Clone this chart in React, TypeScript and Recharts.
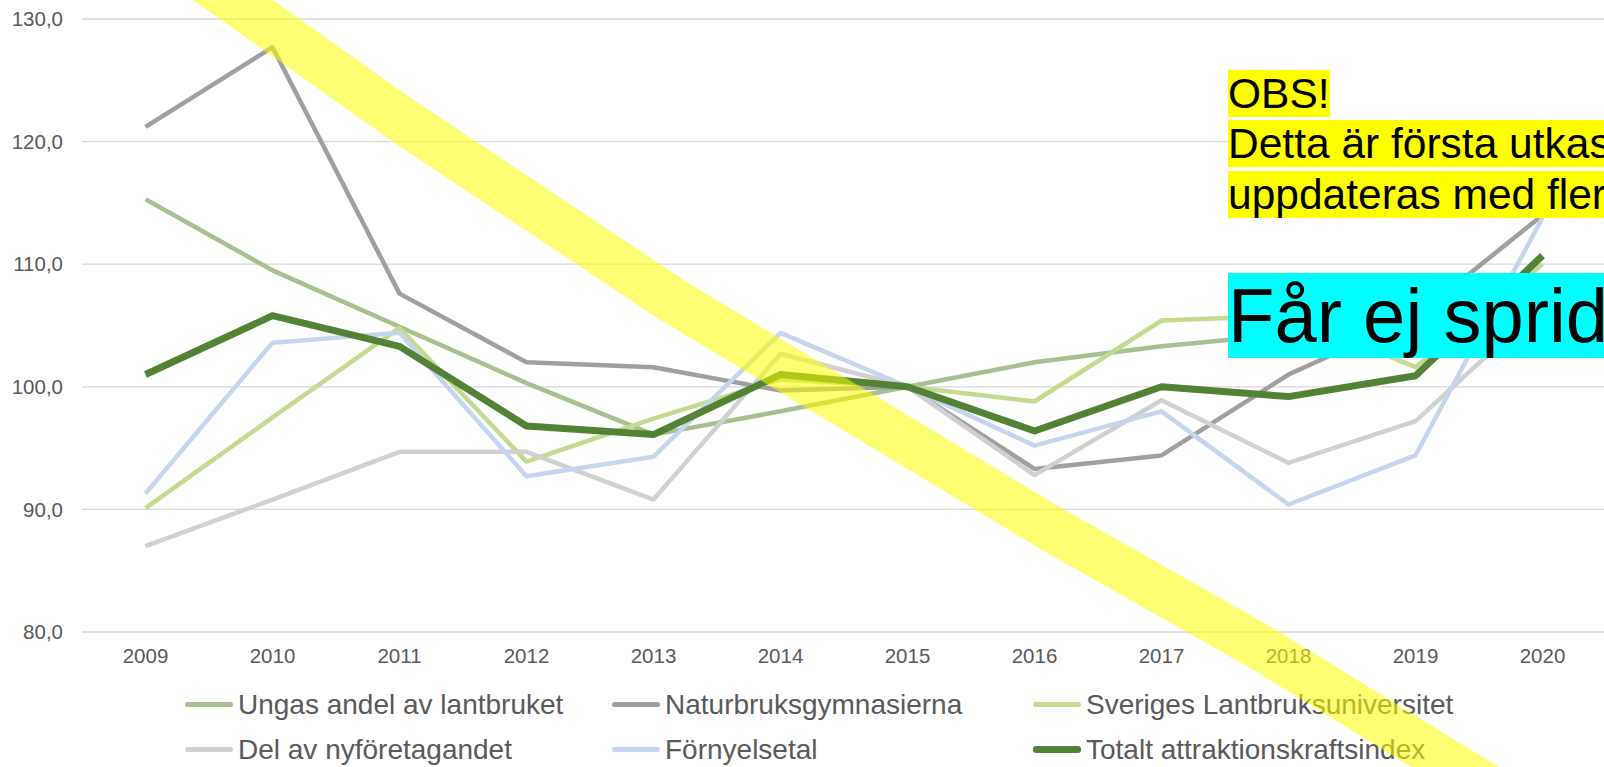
import { LineChart, Line, XAxis, YAxis, CartesianGrid, Legend } from "recharts";

const years = ["2009", "2010", "2011", "2012", "2013", "2014", "2015", "2016", "2017", "2018", "2019", "2020"];

const ungas = [115.3, 109.5, 104.9, 100.3, 96.1, 98.0, 100.0, 102.0, 103.3, 104.3, 105.0, 106.0];
const naturbruk = [121.2, 127.7, 107.6, 102.0, 101.6, 99.7, 100.0, 93.3, 94.4, 101.0, 105.7, 114.0];
const slu = [90.1, 97.5, 104.8, 93.9, 97.4, 100.6, 100.0, 98.8, 105.4, 105.8, 101.6, 110.0];
const nyforetag = [87.0, 90.8, 94.7, 94.7, 90.8, 102.7, 100.0, 92.8, 98.9, 93.8, 97.2, 106.7];
const fornyelse = [91.3, 103.6, 104.4, 92.7, 94.3, 104.4, 100.0, 95.2, 98.0, 90.4, 94.4, 113.8];
const totalt = [101.0, 105.8, 103.3, 96.8, 96.1, 101.0, 100.0, 96.4, 100.0, 99.2, 100.9, 110.7];

const yTicks = [80, 90, 100, 110, 120, 130];

type Series = { key: string; name: string; color: string; width: number; values: number[] };

const series: Series[] = [
  { key: "ungas", name: "Ungas andel av lantbruket", color: "#a7bf91", width: 4.5, values: ungas },
  { key: "naturbruk", name: "Naturbruksgymnasierna", color: "#9f9f9f", width: 4.5, values: naturbruk },
  { key: "slu", name: "Sveriges Lantbruksuniversitet", color: "#c4da90", width: 4.5, values: slu },
  { key: "nyforetag", name: "Del av nyföretagandet", color: "#d0d0d0", width: 4.5, values: nyforetag },
  { key: "fornyelse", name: "Förnyelsetal", color: "#c5d5ee", width: 4.5, values: fornyelse },
  { key: "totalt", name: "Totalt attraktionskraftsindex", color: "#548235", width: 7, values: totalt },
];

const data = years.map((year, i) => {
  const row: Record<string, string | number> = { year };
  series.forEach((s) => {
    row[s.key] = s.values[i];
  });
  return row;
});

// hand-drawn highlighter stroke on top of the slide (pixels)
const highlighter = [
  [190, -30], [233, 0], [402, 120], [672, 300], [1050, 528], [1265, 650], [1455, 767], [1509, 800],
];

const font = '"Liberation Sans", Arial, sans-serif';
const formatTick = (v: number) => v.toFixed(1).replace(".", ",");

// keep the slide's row-major order instead of the legend's alphabetical sort
const renderLegend = (props: any) => {
  const payload: any[] = props.payload ?? [];
  return (
    <div
      style={{
        height: 90,
        boxSizing: "border-box",
        paddingTop: 5,
        paddingLeft: 185,
        display: "grid",
        gridTemplateColumns: "427px 421px 421px",
        gridAutoRows: "45px",
        fontFamily: font,
        fontSize: 28,
        color: "#595959",
      }}
    >
      {series.map((s) => {
        const entry = payload.find((p) => p.dataKey === s.key);
        return (
          <div key={s.key} style={{ display: "flex", alignItems: "center", whiteSpace: "nowrap" }}>
            <span
              style={{
                display: "inline-block",
                width: 48,
                height: s.width > 5 ? 7 : 5,
                borderRadius: 3,
                background: entry?.color ?? s.color,
                marginRight: 5,
              }}
            />
            {entry?.value ?? s.name}
          </div>
        );
      })}
    </div>
  );
};

export default function App() {
  return (
    <div
      style={{
        position: "absolute",
        left: 0,
        top: 0,
        width: 1604,
        height: 767,
        overflow: "hidden",
        background: "#fff",
        fontFamily: font,
      }}
    >
      <LineChart width={1606} height={767} data={data} margin={{ top: 19, right: 0, bottom: 0, left: 0 }}>
        <CartesianGrid vertical={false} stroke="#d9d9d9" strokeWidth={1.3} />
        <XAxis
          dataKey="year"
          axisLine={false}
          tickLine={false}
          tickSize={0}
          tickMargin={16}
          height={45}
          padding={{ left: 63.5, right: 63.5 }}
          tick={{ fontSize: 20.5, fill: "#595959", fontFamily: font }}
        />
        <YAxis
          domain={[80, 130]}
          ticks={yTicks}
          width={82}
          axisLine={false}
          tickLine={false}
          tickSize={0}
          tickMargin={19}
          tickFormatter={formatTick}
          tick={{ fontSize: 20.5, fill: "#595959", fontFamily: font }}
        />
        <Legend verticalAlign="bottom" content={renderLegend} />
        {series.map((s) => (
          <Line
            key={s.key}
            type="linear"
            dataKey={s.key}
            name={s.name}
            stroke={s.color}
            strokeWidth={s.width}
            strokeLinejoin="round"
            dot={false}
            activeDot={false}
            isAnimationActive={false}
          />
        ))}
      </LineChart>

      <svg width={1604} height={767} style={{ position: "absolute", left: 0, top: 0, pointerEvents: "none" }}>
        <polyline
          points={highlighter.map((p) => p.join(",")).join(" ")}
          fill="none"
          stroke="#ffff00"
          strokeOpacity={0.55}
          strokeWidth={46}
          strokeLinejoin="round"
        />
      </svg>

      <div style={{ position: "absolute", left: 1228, top: 68.5, fontSize: 42.5, color: "#000", whiteSpace: "nowrap" }}>
        {["OBS!", "Detta är första utkast", "uppdateras med fler"].map((t) => (
          <div key={t} style={{ height: 50.5, lineHeight: "50.5px" }}>
            <span style={{ background: "#ffff00" }}>{t}</span>
          </div>
        ))}
      </div>

      <div style={{ position: "absolute", left: 1228, top: 274, fontSize: 76, lineHeight: "84px", color: "#000", whiteSpace: "nowrap" }}>
        <span style={{ background: "#00ffff" }}>Får ej spridas</span>
      </div>
    </div>
  );
}
